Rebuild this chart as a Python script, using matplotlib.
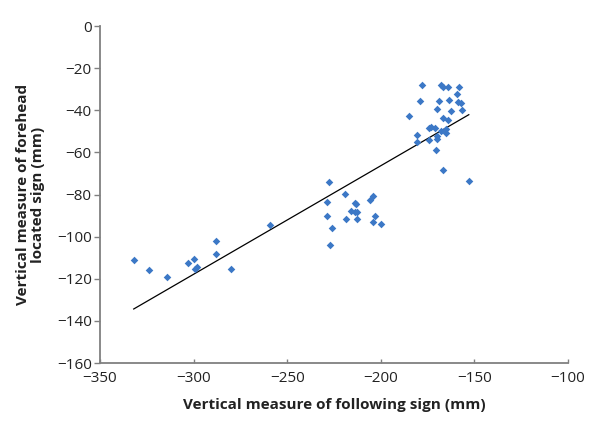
import numpy as np
import matplotlib
matplotlib.use("Agg")
import matplotlib.pyplot as plt

# following sign (x) vs forehead located sign (y), both in mm
following = [
    -332, -324, -314, -303, -300, -298, -299, -288, -288, -280, -259,
    -227.5, -219, -229, -229, -226, -227, -214, -213, -216, -214, -212.5,
    -218.5, -212.5, -206, -204, -203, -204, -200,
    -178, -168, -167, -164, -158, -159.5, -179, -169, -163.5, -159, -157,
    -170, -162.5, -156.5, -185, -167, -164, -174.5, -173, -171, -168,
    -165, -165, -180.5, -180.5, -174, -170, -170, -170.5, -167, -153,
]
forehead = [
    -111, -115.7, -119.3, -112.7, -110.5, -114.3, -115.5, -102.2, -108.1, -115.4, -94.5,
    -74.1, -79.6, -83.7, -90.2, -95.8, -104, -84.2, -84.5, -88, -88.2, -88.5,
    -91.8, -91.5, -82.5, -80.7, -90.1, -92.9, -94.2,
    -27.9, -27.9, -28.8, -28.8, -29.1, -32.1, -35.5, -35.5, -35, -35.9, -36.7,
    -39.3, -40.5, -39.9, -42.6, -43.5, -44.6, -48.6, -47.8, -48.4, -49.9,
    -49, -50.8, -51.9, -55.1, -54.3, -53.5, -52.4, -58.7, -68.5, -73.5,
]
xticks = [-350, -300, -250, -200, -150, -100]
yticks = [-160, -140, -120, -100, -80, -60, -40, -20, 0]

x = np.array(following)
y = np.array(forehead)
# linear trendline
slope, intercept = np.polyfit(x, y, 1)
xl = np.array([x.min(), x.max()])

plt.rcParams['font.family'] = ['Open Sans', 'DejaVu Sans']

fig = plt.figure(figsize=(6, 4.23), dpi=100)
ax = fig.add_axes([0.1667, 0.1418, 0.78, 0.7967])

ax.scatter(x, y, marker='D', s=15, color='#3c78c6', zorder=3, linewidths=0)
ax.plot(xl, slope * xl + intercept, color='black', lw=0.9)

ax.set_xlim(-350, -100)
ax.set_ylim(-160, 0)
ax.set_xticks(xticks)
ax.set_yticks(yticks)
ax.set_xticklabels([f"\u2212{abs(v)}" for v in xticks])
ax.set_yticklabels([f"\u2212{abs(v)}" if v else "0" for v in yticks])

for side in ['top', 'right']:
    ax.spines[side].set_visible(False)
for side in ['left', 'bottom']:
    ax.spines[side].set_color('#808080')
    ax.spines[side].set_linewidth(1.3)
ax.tick_params(axis='y', direction='out', length=4, width=1, colors='#808080',
               labelcolor='#222222', labelsize=11, pad=2)
ax.tick_params(axis='x', direction='in', length=3, width=1, colors='#808080',
               labelcolor='#222222', labelsize=11, pad=6)

ax.set_xlabel("Vertical measure of following sign (mm)", fontsize=11, fontweight='bold', color='#222222')
ax.set_ylabel("Vertical measure of forehead\nlocated sign (mm)", fontsize=11, fontweight='bold',
              color='#222222', linespacing=1.15)
ax.xaxis.set_label_coords(0.5, -0.105)
ax.yaxis.set_label_coords(-0.117, 0.5)

fig.savefig("out.png", dpi=100)
